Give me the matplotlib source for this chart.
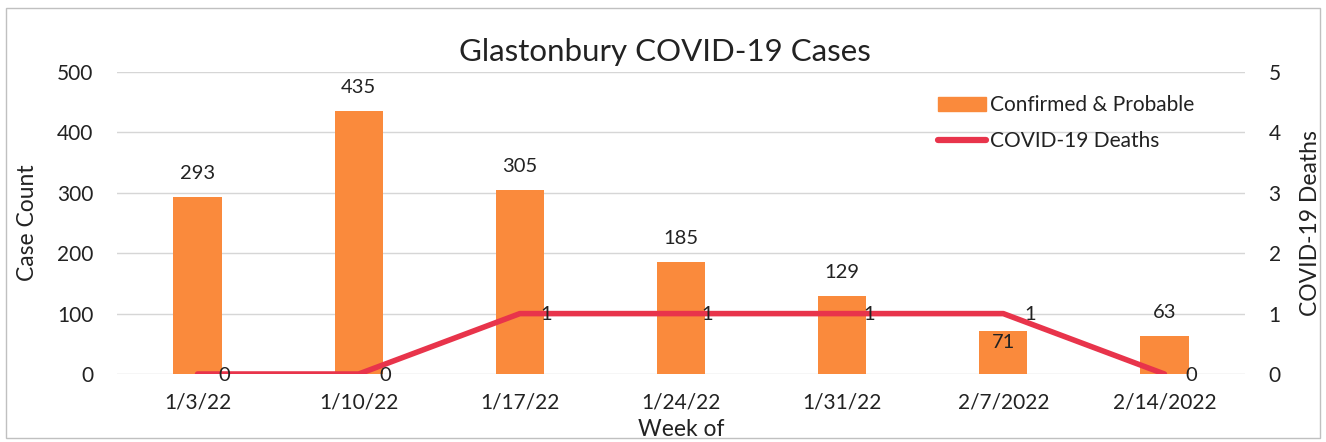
import numpy as np
import matplotlib.pyplot as plt
from matplotlib.patches import Rectangle

plt.rcParams["font.family"] = ["Lato", "DejaVu Sans"]

weeks = ["1/3/22", "1/10/22", "1/17/22", "1/24/22", "1/31/22", "2/7/2022", "2/14/2022"]
cases = [293, 435, 305, 185, 129, 71, 63]
deaths = [0, 0, 1, 1, 1, 1, 0]

bar_color = "#FA8A3C"
line_color = "#E8344B"
text_color = "#222222"

fig = plt.figure(figsize=(13.26, 4.42), dpi=100)
ax = fig.add_axes([117 / 1326, 68 / 442, 1128 / 1326, 302 / 442])
ax2 = ax.twinx()

x = np.arange(len(weeks))
ax.bar(x, cases, width=0.30, color=bar_color, zorder=2)
ax.set_xlim(-0.5, len(weeks) - 0.5)
ax.set_ylim(0, 500)
ax.set_yticks(range(0, 501, 100))
ax.grid(axis="y", color="#d6d6d6", linewidth=1, zorder=0)
ax.set_axisbelow(True)
ax.set_xticks(x)
ax.set_xticklabels(weeks)

for xi, v in zip(x, cases):
    if v == 71:
        ax.annotate(str(v), (xi, v), xytext=(0, -8), textcoords="offset points",
                    ha="center", va="center", fontsize=14.5, color=text_color)
    else:
        ax.annotate(str(v), (xi, v), xytext=(0, 17), textcoords="offset points",
                    ha="center", va="center", fontsize=14.5, color=text_color)

ax2.plot(x, deaths, color=line_color, linewidth=4, solid_capstyle="round", zorder=3)
ax2.set_ylim(0, 5)
ax2.set_yticks(range(0, 6))
for xi, v in zip(x, deaths):
    ax2.annotate(str(v), (xi, v), xytext=(15, -1), textcoords="offset points",
                 ha="left", va="center", fontsize=14.5, color=text_color)

for a in (ax, ax2):
    for s in a.spines.values():
        s.set_visible(False)
    a.tick_params(length=0, labelsize=15, colors=text_color)
ax.tick_params(axis="y", pad=17)
ax.tick_params(axis="x", pad=13)
ax2.tick_params(axis="y", pad=17)

ax.set_ylabel("Case Count", fontsize=16.5, color=text_color)
ax.yaxis.set_label_coords(-0.070, 0.5)
ax2.set_ylabel("COVID-19 Deaths", fontsize=16.5, color=text_color)
ax2.yaxis.set_label_coords(1.049, 0.5)
ax.set_xlabel("Week of", fontsize=16.5, color=text_color)
ax.xaxis.set_label_coords(0.5, -0.15)

fig.text(0.5015, 0.883, "Glastonbury COVID-19 Cases", ha="center", va="center",
         fontsize=22.5, color=text_color)

bars_handle = Rectangle((0, 0), 1, 1, color=bar_color)
line_handle = plt.Line2D([], [], color=line_color, linewidth=4.5, solid_capstyle="round")
leg = ax2.legend([bars_handle, line_handle], ["Confirmed & Probable", "COVID-19 Deaths"],
                 loc="upper right", bbox_to_anchor=(0.972, 0.985), frameon=False,
                 fontsize=15, handlelength=2.3, handletextpad=0.2, labelspacing=0.75)
for t in leg.get_texts():
    t.set_color(text_color)

fig.patches.append(Rectangle((6 / 1326, 4 / 442), 1314 / 1326, 430 / 442,
                             transform=fig.transFigure, fill=False,
                             edgecolor="#c0c0c0", linewidth=1))

fig.savefig("out.png", dpi=100)
